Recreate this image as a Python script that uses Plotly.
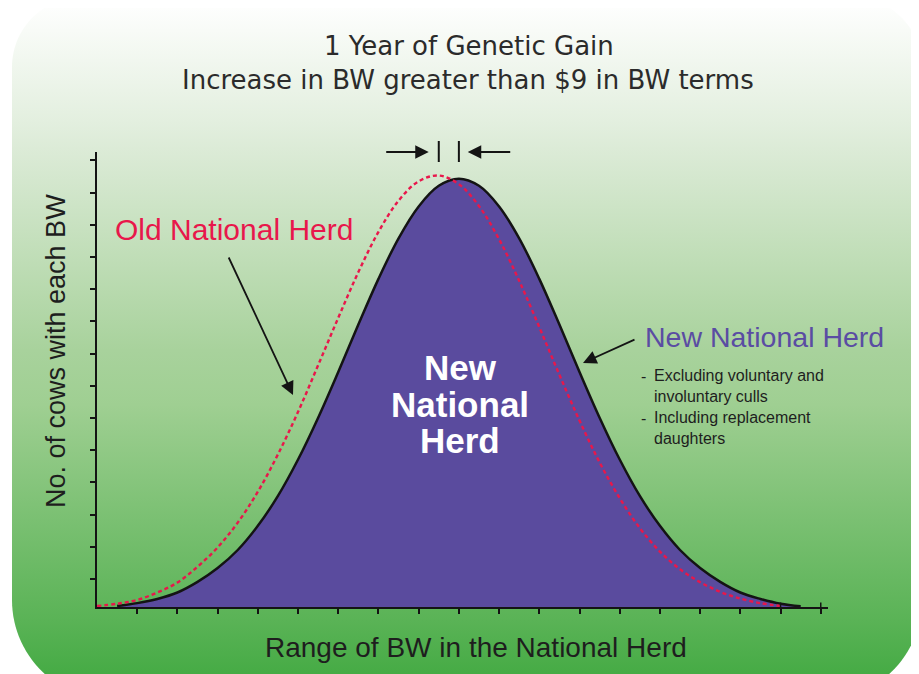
import numpy as np
import plotly.graph_objects as go

W, H = 919, 674
OFF = 8  # page margin the browser puts around the plot

# values (x in BW tick steps, y in count tick steps)
bw_new = [0.5, 1.0, 1.5, 2.0, 2.5, 3.0, 3.5, 4.0, 4.5, 5.0, 5.5, 6.0, 6.5, 7.0, 7.5, 8.0, 8.5,
          9.0, 9.5, 10.0, 10.5, 11.0, 11.5, 12.0, 12.5, 13.0, 13.5, 14.0, 14.5, 15.0, 15.5,
          16.0, 16.5, 17.0, 17.5]
cows_new = [0.03, 0.12, 0.25, 0.45, 0.78, 1.21, 1.77, 2.52, 3.45, 4.58, 5.88, 7.30, 8.77,
            10.19, 11.45, 12.44, 13.08, 13.30, 13.08, 12.44, 11.45, 10.19, 8.77, 7.30, 5.88,
            4.58, 3.45, 2.52, 1.77, 1.21, 0.78, 0.45, 0.25, 0.10, 0.02]

bw_old = [0.0, 0.5, 1.0, 1.5, 2.0, 2.5, 3.0, 3.5, 4.0, 4.5, 5.0, 5.5, 6.0, 6.5, 7.0, 7.5, 8.0,
          8.5, 9.0, 9.5, 10.0, 10.5, 11.0, 11.5, 12.0, 12.5, 13.0, 13.5, 14.0, 14.5, 15.0,
          15.5, 16.0, 16.5, 17.0]
cows_old = [0.03, 0.10, 0.22, 0.45, 0.76, 1.25, 1.85, 2.62, 3.58, 4.74, 6.06, 7.51, 8.98,
            10.40, 11.65, 12.62, 13.22, 13.40, 13.13, 12.45, 11.42, 10.13, 8.69, 7.21, 5.79,
            4.49, 3.38, 2.45, 1.72, 1.17, 0.77, 0.47, 0.26, 0.12, 0.03]

x_ticks = list(range(1, 19))
y_ticks = [0.87 + k for k in range(14)]

title_lines = ["1 Year of Genetic Gain", "Increase in BW greater than $9 in BW terms"]
notes = ["Excluding voluntary and<br>involuntary culls", "Including replacement<br>daughters"]


def fx(p):
    return (p - OFF) / (W - OFF)


def fy(p):
    return 1 - (p - OFF) / (H - OFF)


def arc(cx, cy, r, a0, a1):
    a = np.radians(np.linspace(a0, a1, 30))
    return list(cx + r * np.cos(a)), list(cy + r * np.sin(a))


# rounded green panel behind the chart
left, right, top, bottom = 12, 922, -3, 700
px, py = [], []
for c in [(left + 70, top + 70, 70, 180, 270), (right - 70, top + 70, 70, 270, 360),
          (right - 100, bottom - 100, 100, 0, 90), (left + 100, bottom - 100, 100, 90, 180)]:
    a, b = arc(*c)
    px += a
    py += b

fig = go.Figure()
fig.add_trace(go.Scatter(
    x=px, y=py, mode="none", fill="toself", hoverinfo="skip", showlegend=False,
    fillgradient=dict(type="vertical", start=0, stop=H,
                      colorscale=[[0, "#ffffff"], [0.18, "#e3efdf"], [0.22, "#dcebd7"],
                                  [0.52, "#a8d29c"], [0.6, "#9fcf92"], [0.92, "#5ab356"],
                                  [1, "#46ab45"]]),
    xaxis="x", yaxis="y"))

fig.add_trace(go.Scatter(
    x=bw_new, y=cows_new, mode="lines", fill="tozeroy", fillcolor="#5a4b9e",
    line=dict(color="#141414", width=2.5, shape="spline"),
    hoverinfo="skip", showlegend=False, xaxis="x2", yaxis="y2"))
fig.add_trace(go.Scatter(
    x=bw_old, y=cows_old, mode="lines",
    line=dict(color="#e8174b", width=2.4, dash="4px,3px", shape="spline"),
    hoverinfo="skip", showlegend=False, xaxis="x2", yaxis="y2"))

peak_old = bw_old[int(np.argmax(cows_old))]
peak_new = bw_new[int(np.argmax(cows_new))]

shapes = []
for p in [peak_old, peak_new]:
    shapes.append(dict(type="line", xref="x2", yref="paper", x0=p, x1=p,
                       y0=fy(162), y1=fy(141), line=dict(color="#141414", width=2)))
for t in [17, 18]:
    shapes.append(dict(type="line", xref="x2", yref="y2", x0=t, x1=t, y0=0, y1=0.14,
                       line=dict(color="#141414", width=1.5)))

font = "Liberation Sans, Arial, sans-serif"
ann = []
arrow = dict(showarrow=True, text="", arrowhead=2, arrowsize=1.5, arrowwidth=1.8,
             arrowcolor="#141414")
ann.append(dict(x=peak_old - 0.25, xref="x2", y=fy(152), yref="paper", ax=-44, ay=0, **arrow))
ann.append(dict(x=peak_new + 0.22, xref="x2", y=fy(152), yref="paper", ax=44, ay=0, **arrow))
ann.append(dict(x=fx(293), y=fy(395), xref="paper", yref="paper", ax=-65, ay=-139, **arrow))
ann.append(dict(x=fx(583), y=fy(363), xref="paper", yref="paper", ax=53, ay=-24, **arrow))

ann.append(dict(x=fx(469), y=fy(46), text=title_lines[0],
                font=dict(family="DejaVu Sans", size=26, color="#2b2b2b")))
ann.append(dict(x=fx(468), y=fy(80), text=title_lines[1],
                font=dict(family="DejaVu Sans", size=26, color="#2b2b2b")))
ann.append(dict(x=fx(113), y=fy(230), xanchor="left", text="Old National Herd",
                font=dict(family=font, size=30, color="#e8174b")))
ann.append(dict(x=fx(643), y=fy(337), xanchor="left", text="New National Herd",
                font=dict(family=font, size=28.5, color="#5a4ca3")))
for txt, yy in zip(["New", "National", "Herd"], [367, 404, 441]):
    ann.append(dict(x=fx(460), y=fy(yy), text="<b>%s</b>" % txt,
                    font=dict(family=font, size=35, color="white")))
for txt, yy in zip(notes, [386, 428]):
    ann.append(dict(x=fx(653), y=fy(yy), xanchor="left", align="left", text=txt,
                    borderpad=0, font=dict(family=font, size=16, color="#1e1e1e")))
    ann.append(dict(x=fx(640), y=fy(yy - 10), xanchor="left", text="-", borderpad=0,
                    font=dict(family=font, size=16, color="#1e1e1e")))
ann.append(dict(x=fx(56), y=fy(351), text="No. of cows with each BW", textangle=-90,
                font=dict(family=font, size=27, color="#1e1e1e")))
ann.append(dict(x=fx(476), y=fy(647), text="Range of BW in the National Herd",
                font=dict(family=font, size=28, color="#1e1e1e")))
for a in ann:
    a.setdefault("showarrow", False)
    a.setdefault("xref", "paper")
    a.setdefault("yref", "paper")
    a.setdefault("xanchor", "center")
    a.setdefault("yanchor", "middle")

axis_style = dict(showgrid=False, zeroline=False, showticklabels=False, showline=True,
                  linecolor="#141414", linewidth=2, ticks="outside", ticklen=5,
                  tickwidth=1.5, tickcolor="#141414", tickmode="array")

fig.update_layout(
    width=W - OFF, height=H - OFF,
    margin=dict(l=0, r=0, t=0, b=0),
    paper_bgcolor="white", plot_bgcolor="rgba(0,0,0,0)",
    xaxis=dict(domain=[0, 1], range=[OFF, W], visible=False),
    yaxis=dict(domain=[0, 1], range=[H, OFF], visible=False),
    xaxis2=dict(domain=[fx(97), fx(828)], range=[0, 18.18], anchor="y2",
                tickvals=x_ticks, **axis_style),
    yaxis2=dict(domain=[fy(607), fy(152)], range=[0, 14.13], anchor="x2",
                tickvals=y_ticks, **axis_style),
    shapes=shapes, annotations=ann,
)

fig.write_html("out.html")
